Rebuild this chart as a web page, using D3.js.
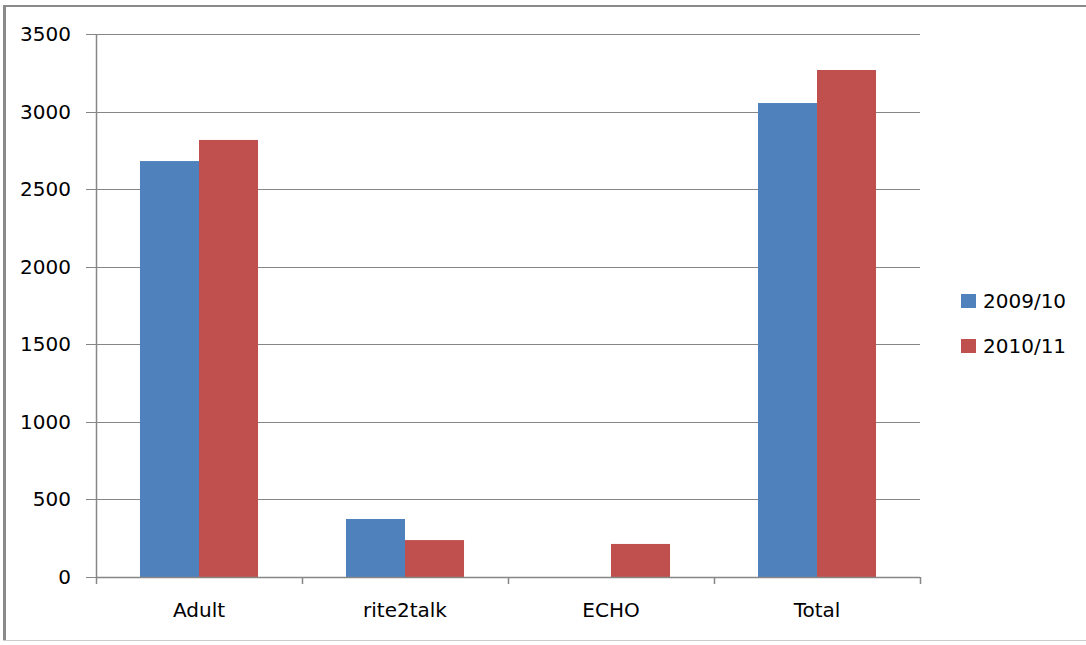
<!DOCTYPE html>
<html>
<head>
<meta charset="utf-8">
<script src="https://cdn.jsdelivr.net/npm/d3@7"></script>
<style>
  html, body { margin: 0; padding: 0; background: #fff; }
  svg { display: block; }
  text { font-family: "DejaVu Sans", sans-serif; fill: #000; }
</style>
</head>
<body>
<svg id="chart" width="1086" height="645"></svg>
<script>
// Programme figures by year
const categories = ["Adult", "rite2talk", "ECHO", "Total"];
const seriesNames = ["2009/10", "2010/11"];
const values2009 = [2681, 374, 0, 3055];
const values2010 = [2817, 238, 213, 3268];
const yTicks = [0, 500, 1000, 1500, 2000, 2500, 3000, 3500];
const colors = ["#4f81bd", "#c0504d"];

const svg = d3.select("#chart");
const plot = { left: 96, right: 920, top: 34, bottom: 577 };
const fontSize = "20px";

// Frame around the chart
svg.append("line").attr("x1", 3).attr("x2", 1086).attr("y1", 6).attr("y2", 6)
  .attr("stroke", "#8a8a8a").attr("stroke-width", 2);
svg.append("line").attr("x1", 4.5).attr("x2", 4.5).attr("y1", 5).attr("y2", 641)
  .attr("stroke", "#8a8a8a").attr("stroke-width", 3);
svg.append("line").attr("x1", 3).attr("x2", 1086).attr("y1", 640.5).attr("y2", 640.5)
  .attr("stroke", "#cccccc").attr("stroke-width", 1);

const x0 = d3.scaleBand().domain(categories).range([plot.left, plot.right]).paddingInner(0).paddingOuter(0);
const groupW = x0.bandwidth() * 0.573;
const x1 = d3.scaleBand().domain(seriesNames).range([0, groupW]);
const y = d3.scaleLinear().domain([0, 3500]).range([plot.bottom, plot.top]);

// Horizontal gridlines with short ticks left of the axis
const grid = svg.append("g");
grid.selectAll("line").data(yTicks).join("line")
  .attr("x1", plot.left - 10).attr("x2", plot.right)
  .attr("y1", d => Math.round(y(d)) + 0.5).attr("y2", d => Math.round(y(d)) + 0.5)
  .attr("stroke", "#868686").attr("stroke-width", 1);

// Bars
const data = categories.map((c, i) => ({ cat: c, vals: [values2009[i], values2010[i]] }));
const groups = svg.append("g").selectAll("g").data(data).join("g")
  .attr("transform", d => `translate(${x0(d.cat) + (x0.bandwidth() - groupW) / 2},0)`);
groups.selectAll("rect").data(d => d.vals.map((v, j) => ({ v, s: seriesNames[j], j })))
  .join("rect")
  .attr("x", d => x1(d.s))
  .attr("width", x1.bandwidth())
  .attr("y", d => y(d.v))
  .attr("height", d => y(0) - y(d.v))
  .attr("fill", d => colors[d.j]);

// Y axis line
svg.append("line").attr("x1", plot.left + 0.5).attr("x2", plot.left + 0.5)
  .attr("y1", plot.top).attr("y2", plot.bottom + 7)
  .attr("stroke", "#868686").attr("stroke-width", 1.5);

// X axis line and category separators
svg.append("line").attr("x1", plot.left).attr("x2", plot.right)
  .attr("y1", plot.bottom + 0.5).attr("y2", plot.bottom + 0.5)
  .attr("stroke", "#868686").attr("stroke-width", 1.5);
const bounds = categories.map(c => x0(c)).concat([plot.right]).slice(1);
svg.append("g").selectAll("line").data(bounds).join("line")
  .attr("x1", d => d + 0.5).attr("x2", d => d + 0.5)
  .attr("y1", plot.bottom).attr("y2", plot.bottom + 7)
  .attr("stroke", "#868686").attr("stroke-width", 1.5);

// Y tick labels
svg.append("g").selectAll("text").data(yTicks).join("text")
  .attr("x", 71).attr("y", d => y(d) + 7)
  .attr("text-anchor", "end")
  .style("font-size", fontSize)
  .text(d => d);

// Category labels
svg.append("g").selectAll("text").data(categories).join("text")
  .attr("x", d => x0(d) + x0.bandwidth() / 2)
  .attr("y", 617)
  .attr("text-anchor", "middle")
  .style("font-size", fontSize)
  .text(d => d);

// Legend
const legend = svg.append("g").selectAll("g").data(seriesNames).join("g")
  .attr("transform", (d, i) => `translate(961,${294 + i * 45})`);
legend.append("rect").attr("width", 15).attr("height", 14).attr("fill", (d, i) => colors[i]);
legend.append("text").attr("x", 22).attr("y", 14)
  .style("font-size", fontSize).text(d => d);
</script>
</body>
</html>
